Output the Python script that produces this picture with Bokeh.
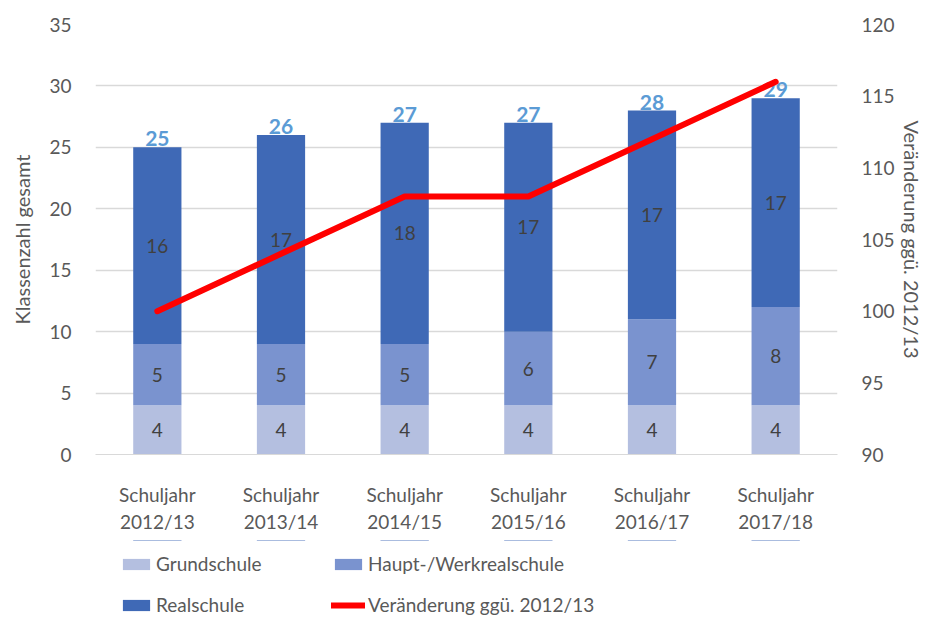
from bokeh.plotting import figure
from bokeh.layouts import column
from bokeh.models import (ColumnDataSource, Range1d, LinearAxis, Legend, LegendItem,
                          FixedTicker, FactorRange)
from bokeh.core.properties import value
from bokeh.embed import file_html
from bokeh.resources import INLINE

years = ["2012/13", "2013/14", "2014/15", "2015/16", "2016/17", "2017/18"]
tick_labels = ["Schuljahr\n" + y for y in years]
grundschule = [4, 4, 4, 4, 4, 4]
haupt = [5, 5, 5, 6, 7, 8]
realschule = [16, 17, 18, 17, 17, 17]
totals = [25, 26, 27, 27, 28, 29]
veraenderung = [100, 104, 108, 108, 112, 116]

series_names = ["Grundschule", "Haupt-/Werkrealschule", "Realschule"]
line_name = "Veränderung ggü. 2012/13"
colors = ["#B4BFE0", "#7A93CF", "#3F69B6"]
FONT = "Lato"
GRAY = "#595959"

src = ColumnDataSource(dict(
    x=tick_labels,
    g=grundschule, h=haupt, r=realschule,
    tot=totals,
    tot_s=[str(t) for t in totals],
    g_mid=[a / 2 for a in grundschule],
    h_mid=[a + b / 2 for a, b in zip(grundschule, haupt)],
    r_mid=[a + b + c / 2 for a, b, c in zip(grundschule, haupt, realschule)],
    g_s=[str(v) for v in grundschule],
    h_s=[str(v) for v in haupt],
    r_s=[str(v) for v in realschule],
    v=veraenderung,
))

p = figure(width=926, height=540, x_range=FactorRange(*tick_labels, range_padding=0),
           y_range=Range1d(0, 35), output_backend="svg", toolbar_location=None,
           min_border_left=95, min_border_right=86, min_border_top=24, min_border_bottom=86)
p.outline_line_color = None
p.x_range.factor_padding = 0
p.extra_y_ranges = {"right": Range1d(90, 120)}

bars = p.vbar_stack(["g", "h", "r"], x="x", width=0.39, source=src, color=colors,
                    line_color=None)

# segment labels
for col, txt in [("g_mid", "g_s"), ("h_mid", "h_s"), ("r_mid", "r_s")]:
    p.text(x="x", y=col, text=txt, source=src, text_align="center", text_baseline="middle",
           text_font=value(FONT), text_font_size="19px", text_color="#404040")

# totals
p.text(x="x", y="tot", text="tot_s", source=src, text_align="center", text_baseline="bottom",
       text_font=value(FONT), text_font_size="21px", text_font_style="bold",
       text_color="#5B9BD5", y_offset=-1)

line = p.line(x="x", y="v", source=src, y_range_name="right", line_color="#FF0000",
              line_width=6, line_cap="round", line_join="round")

# axes
p.yaxis.ticker = FixedTicker(ticks=list(range(0, 36, 5)))
right = LinearAxis(y_range_name="right", ticker=FixedTicker(ticks=list(range(90, 121, 5))),
                   axis_label=line_name)
p.add_layout(right, "right")
p.yaxis[0].axis_label = "Klassenzahl gesamt"

for ax in p.yaxis:
    ax.axis_line_color = None
    ax.major_tick_line_color = None
    ax.minor_tick_line_color = None
    ax.major_label_text_font = FONT
    ax.major_label_text_font_size = "19px"
    ax.major_label_text_color = GRAY
    ax.axis_label_text_font = FONT
    ax.axis_label_text_font_size = "20px"
    ax.axis_label_text_font_style = "normal"
    ax.axis_label_text_color = GRAY
    ax.major_label_standoff = 18
    ax.axis_label_standoff = 6
p.yaxis[0].axis_label_standoff = 12
p.yaxis[1].axis_label_standoff = 2

p.xaxis.axis_line_color = "#D9D9D9"
p.xaxis.major_tick_line_color = None
p.xaxis.major_label_text_font = FONT
p.xaxis.major_label_text_font_size = "19px"
p.xaxis.major_label_text_color = GRAY
p.xaxis.major_label_standoff = 22

p.xgrid.grid_line_color = None
p.ygrid.grid_line_color = "#D9D9D9"
p.ygrid.grid_line_width = 1.5

# legend strip below the chart: same series, drawn against a y range that holds
# none of the values, so only the legend glyphs are visible
lf = figure(width=926, height=76, x_range=FactorRange(*tick_labels, range_padding=0),
            y_range=Range1d(-200, -100), output_backend="svg", toolbar_location=None,
            min_border=0)
lf.axis.visible = False
lf.grid.grid_line_color = None
lf.outline_line_color = None
lg = lf.vbar_stack(["g", "h", "r"], x="x", width=0.39, source=src, color=colors,
                   line_color=None)
ll = lf.line(x="x", y="v", source=src, line_color="#FF0000", line_width=6, line_cap="round")

legend = Legend(items=[
    LegendItem(label=series_names[0], renderers=[lg[0]]),
    LegendItem(label=series_names[2], renderers=[lg[2]]),
    LegendItem(label=series_names[1], renderers=[lg[1]]),
    LegendItem(label=line_name, renderers=[ll]),
], nrows=2, location=(24, 0), orientation="vertical")
legend.glyph_width = 34
legend.glyph_height = 14
legend.label_standoff = 3
legend.label_width = 157
legend.label_height = 20
legend.spacing = 18
legend.padding = 0
legend.margin = 0
legend.border_line_color = None
legend.background_fill_alpha = 0
legend.label_text_font = FONT
legend.label_text_font_size = "19px"
legend.label_text_color = GRAY
lf.add_layout(legend, "center")

open("out.html", "w").write(file_html(column(p, lf), INLINE))
